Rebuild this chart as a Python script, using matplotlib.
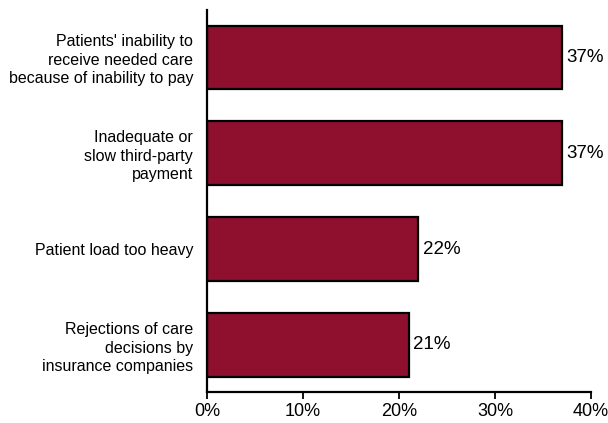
import matplotlib
matplotlib.use("Agg")
import matplotlib.pyplot as plt

categories = [
    "Patients' inability to\nreceive needed care\nbecause of inability to pay",
    "Inadequate or\nslow third-party\npayment",
    "Patient load too heavy",
    "Rejections of care\ndecisions by\ninsurance companies",
]
values = [37, 37, 22, 21]
xticks = [0, 10, 20, 30, 40]
xtick_labels = ["0%", "10%", "20%", "30%", "40%"]

plt.rcParams["font.family"] = ["Liberation Sans", "DejaVu Sans"]

fig = plt.figure(figsize=(6.08, 4.23), dpi=100)
ax = fig.add_axes([0.3405, 0.0733, 0.6315, 0.9027])

ypos = list(range(len(categories)))
ax.barh(ypos, values, height=0.66, color="#8F0F2F", edgecolor="black", linewidth=1.6)

for y, v in zip(ypos, values):
    ax.text(v + 0.45, y, f"{v}%", va="center", ha="left", fontsize=13.5)

ax.set_xlim(0, 40)
ax.set_ylim(3.49, -0.49)
ax.set_xticks(xticks)
ax.set_xticklabels(xtick_labels, fontsize=13)
ax.set_yticks(ypos)
ax.set_yticklabels(categories, fontsize=11.5, linespacing=1.28)
ax.tick_params(axis="y", length=0, pad=10)
ax.tick_params(axis="x", length=5, width=1.3, direction="out", pad=3)

for s in ["top", "right"]:
    ax.spines[s].set_visible(False)
for s in ["left", "bottom"]:
    ax.spines[s].set_linewidth(1.6)

fig.savefig("out.png", dpi=100)
